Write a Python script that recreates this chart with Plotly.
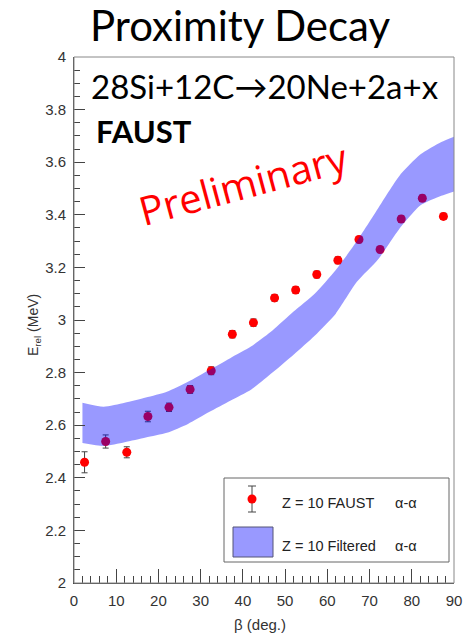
import plotly.graph_objects as go

# ---- data ----
beta = [2.5, 7.5, 12.5, 17.5, 22.5, 27.5, 32.5, 37.5, 42.5, 47.5,
        52.5, 57.5, 62.5, 67.5, 72.5, 77.5, 82.5, 87.5]
erel = [2.459, 2.538, 2.497, 2.633, 2.668, 2.736, 2.807, 2.946, 2.990, 3.084,
        3.114, 3.173, 3.227, 3.306, 3.268, 3.384, 3.463, 3.394]
erel_err = [0.040, 0.025, 0.021, 0.020, 0.016, 0.015, 0.015, 0.014, 0.014, 0.013,
            0.013, 0.013, 0.013, 0.012, 0.012, 0.012, 0.012, 0.012]

band_x = [2, 7, 12, 17, 22, 27, 32, 37, 42, 47, 52, 57, 62, 67, 72, 77, 82, 87, 90]
band_upper = [2.685, 2.670, 2.685, 2.705, 2.727, 2.765, 2.810, 2.855, 2.900, 2.960,
              3.032, 3.100, 3.190, 3.300, 3.424, 3.547, 3.629, 3.677, 3.697]
band_lower = [2.532, 2.521, 2.535, 2.553, 2.571, 2.605, 2.650, 2.693, 2.736, 2.800,
              2.868, 2.940, 3.024, 3.145, 3.230, 3.345, 3.435, 3.472, 3.489]

legend_labels = ["Z = 10 FAUST", "Z = 10 Filtered"]

W, H = 475, 635
L, R, T, B = 74, 454, 57, 583  # plot area in px


def px(x):
    return (x - L) / (R - L)


def py(y):
    return (B - y) / (B - T)


fig = go.Figure()

fig.add_trace(go.Scatter(
    x=beta, y=erel, mode="markers",
    marker=dict(color="#ff0000", size=9, symbol="circle"),
    error_y=dict(type="data", array=erel_err, visible=True,
                 color="#444444", thickness=1, width=3),
    showlegend=False, hoverinfo="skip"))

fig.add_trace(go.Scatter(
    x=band_x, y=band_lower, mode="lines",
    line=dict(width=0, shape="spline", smoothing=0.6),
    showlegend=False, hoverinfo="skip"))
fig.add_trace(go.Scatter(
    x=band_x, y=band_upper, mode="lines", fill="tonexty",
    fillcolor="rgba(0,0,255,0.4)",
    line=dict(width=0, shape="spline", smoothing=0.6),
    showlegend=False, hoverinfo="skip"))

tickfont = dict(family="Liberation Sans, Arial, sans-serif", size=15, color="#333333")

fig.update_xaxes(range=[0, 90], dtick=10, tick0=0, ticks="inside", ticklen=14,
                 tickcolor="#444444", tickwidth=1,
                 minor=dict(dtick=2, ticks="inside", ticklen=7, tickcolor="#444444"),
                 showline=True, linecolor="#444444", linewidth=1,
                 showgrid=False, zeroline=False, tickfont=tickfont,
                 ticklabelstandoff=4)
fig.update_yaxes(range=[2, 4], dtick=0.2, tick0=2, ticks="inside", ticklen=11,
                 tickcolor="#444444", tickwidth=1,
                 minor=dict(dtick=0.05, ticks="inside", ticklen=6, tickcolor="#444444"),
                 showline=True, linecolor="#444444", linewidth=1,
                 showgrid=False, zeroline=False, tickfont=tickfont,
                 ticklabelstandoff=4)

shapes = []
# frame
shapes.append(dict(type="rect", xref="paper", yref="paper", x0=0, x1=1, y0=0, y1=1,
                   line=dict(color="#888888", width=1), layer="above"))
# legend box
shapes.append(dict(type="rect", xref="paper", yref="paper",
                   x0=px(224), x1=px(449), y0=py(562), y1=py(478),
                   line=dict(color="#666666", width=1), fillcolor="white", layer="above"))
# legend error bar
lx, ly = 252, 499
shapes.append(dict(type="line", xref="paper", yref="paper",
                   x0=px(lx), x1=px(lx), y0=py(486), y1=py(512),
                   line=dict(color="#444444", width=1), layer="above"))
for cy in (486, 512):
    shapes.append(dict(type="line", xref="paper", yref="paper",
                       x0=px(lx - 4), x1=px(lx + 4), y0=py(cy), y1=py(cy),
                       line=dict(color="#444444", width=1), layer="above"))
shapes.append(dict(type="circle", xref="paper", yref="paper",
                   x0=px(lx - 4.5), x1=px(lx + 4.5), y0=py(ly + 4.5), y1=py(ly - 4.5),
                   fillcolor="#ff0000", line=dict(width=0), layer="above"))
# legend band box
shapes.append(dict(type="rect", xref="paper", yref="paper",
                   x0=px(233), x1=px(273), y0=py(557), y1=py(527),
                   fillcolor="#9999ff", line=dict(color="#555577", width=1), layer="above"))

ann = []
lfont = dict(family="Liberation Sans, Arial, sans-serif", size=14.5, color="#222222")
for lab, yc in zip(legend_labels, (503, 546)):
    ann.append(dict(text=lab, xref="paper", yref="paper", x=px(280), y=py(yc),
                    xanchor="left", yanchor="middle", showarrow=False, font=lfont))
    ann.append(dict(text="α-α", xref="paper", yref="paper", x=px(393), y=py(yc),
                    xanchor="left", yanchor="middle", showarrow=False, font=lfont))

ann.append(dict(text="Proximity Decay", xref="paper", yref="paper", x=px(240), y=py(25),
                xanchor="center", yanchor="middle", showarrow=False,
                font=dict(family="Lato, Open Sans, sans-serif", size=42, color="black")))
ann.append(dict(text="28Si+12C→20Ne+2a+x", xref="paper", yref="paper", x=px(89), y=py(86),
                xanchor="left", yanchor="middle", showarrow=False,
                font=dict(family="Lato, Open Sans, sans-serif", size=33, color="black")))
ann.append(dict(text="<b>FAUST</b>", xref="paper", yref="paper", x=px(94), y=py(131),
                xanchor="left", yanchor="middle", showarrow=False,
                font=dict(family="Lato, Open Sans, sans-serif", size=31, color="black")))
ann.append(dict(text="Preliminary", xref="paper", yref="paper", x=px(243), y=py(183),
                xanchor="center", yanchor="middle", showarrow=False, textangle=-15,
                font=dict(family="Open Sans, Lato, sans-serif", size=40, color="#ff0000")))
ann.append(dict(text="E<sub>rel</sub> (MeV)", xref="paper", yref="paper", x=px(34), y=py(325),
                xanchor="center", yanchor="middle", showarrow=False, textangle=-90,
                font=dict(family="Liberation Sans, Arial, sans-serif", size=14, color="#333333")))
ann.append(dict(text="β (deg.)", xref="paper", yref="paper", x=px(260), y=py(624),
                xanchor="center", yanchor="middle", showarrow=False,
                font=dict(family="Liberation Sans, Arial, sans-serif", size=15, color="#333333")))

fig.update_layout(width=W, height=H,
                  margin=dict(l=L, r=W - R, t=T, b=H - B),
                  plot_bgcolor="white", paper_bgcolor="white",
                  shapes=shapes, annotations=ann, showlegend=False)

fig.write_html("out.html")
